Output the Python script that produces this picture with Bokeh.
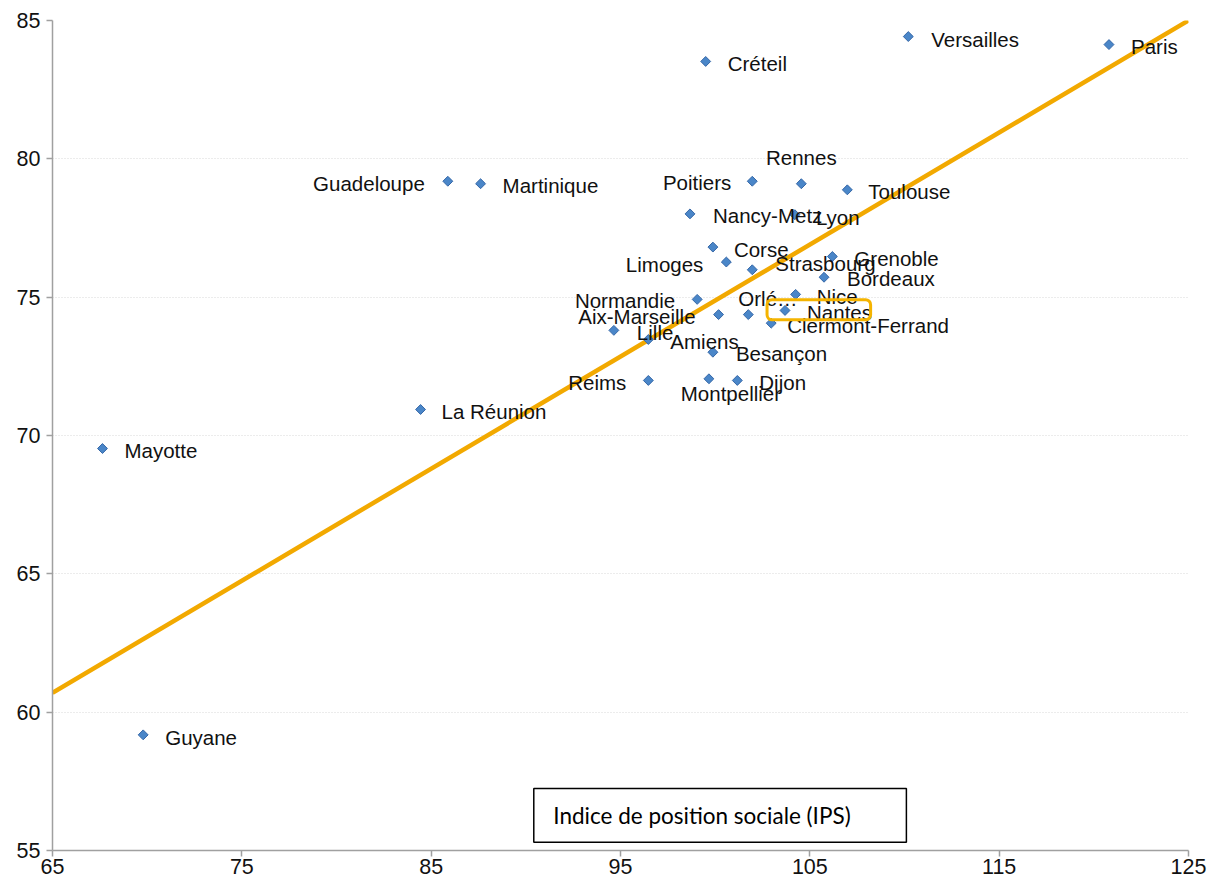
import math
from bokeh.plotting import figure
from bokeh.models import ColumnDataSource, FixedTicker, BoxAnnotation, Label, Range1d
from bokeh.core.properties import value
from bokeh.embed import file_html
from bokeh.resources import INLINE

# ---- data ----
academies = ["Paris", "Versailles", "Créteil", "Rennes", "Poitiers", "Toulouse",
             "Guadeloupe", "Martinique", "Nancy-Metz", "Lyon", "Corse", "Limoges",
             "Strasbourg", "Grenoble", "Bordeaux", "Nice", "Orlé…", "Aix-Marseille",
             "Nantes", "Clermont-Ferrand", "Normandie", "Lille", "Amiens", "Besançon",
             "Reims", "Montpellier", "Dijon", "La Réunion", "Mayotte", "Guyane"]
ips = [120.8, 110.2, 99.5, 104.55, 101.96, 106.98,
       85.88, 87.61, 98.67, 104.21, 99.88, 100.59,
       101.96, 106.19, 105.75, 104.25, 101.75, 100.18,
       103.69, 102.96, 99.05, 94.65, 96.47, 99.88,
       96.47, 99.67, 101.17, 84.44, 67.64, 69.79]
taux = [84.13, 84.42, 83.52, 79.10, 79.19, 78.88,
        79.19, 79.10, 78.01, 77.98, 76.81, 76.27,
        75.99, 76.47, 75.72, 75.10, 74.37, 74.37,
        74.52, 74.06, 74.92, 73.80, 73.47, 73.01,
        71.99, 72.05, 71.99, 70.94, 69.53, 59.18]
trend_x = [65, 125]
trend_y = [60.7, 85.0]
x_ticks = [65, 75, 85, 95, 105, 115, 125]
y_ticks = [55, 60, 65, 70, 75, 80, 85]
axis_title = "Indice de position sociale (IPS)"
highlight = "Nantes"

# ---- label placement (style) : (dx, dy in screen px, align) ----
placement = {
    "Paris": (22, 2, "left"), "Versailles": (23, 3, "left"), "Créteil": (22, 2, "left"),
    "Rennes": (0, -26, "center"), "Poitiers": (-21, 1, "right"), "Toulouse": (21, 2, "left"),
    "Guadeloupe": (-23, 2, "right"), "Martinique": (22, 2, "left"), "Nancy-Metz": (23, 2, "left"),
    "Lyon": (21, 3, "left"), "Corse": (21, 2, "left"), "Limoges": (-23, 2, "right"),
    "Strasbourg": (23, -6, "left"), "Grenoble": (22, 2, "left"), "Bordeaux": (23, 1, "left"),
    "Nice": (21, 2, "left"), "Orlé…": (-10, -16, "left"), "Aix-Marseille": (-23, 2, "right"),
    "Nantes": (22, 2, "left"), "Clermont-Ferrand": (16, 2, "left"), "Normandie": (-22, 1, "right"),
    "Lille": (23, 2, "left"), "Amiens": (22, 2, "left"), "Besançon": (23, 1, "left"),
    "Reims": (-22, 2, "right"), "Montpellier": (22, 15, "center"), "Dijon": (22, 2, "left"),
    "La Réunion": (21, 2, "left"), "Mayotte": (22, 2, "left"), "Guyane": (22, 3, "left"),
}

src = ColumnDataSource(dict(
    x=ips, y=taux, name=academies,
    dx=[placement[a][0] for a in academies],
    dy=[placement[a][1] for a in academies],
    align=[placement[a][2] for a in academies],
))

p = figure(width=1210, height=887, output_backend="svg", toolbar_location=None,
           x_range=Range1d(x_ticks[0], x_ticks[-1]), y_range=Range1d(y_ticks[0], y_ticks[-1]),
           min_border_left=52, min_border_right=22, min_border_top=20, min_border_bottom=37)
p.outline_line_color = None
p.background_fill_color = "white"
p.border_fill_color = "white"

# grid
p.xgrid.grid_line_color = None
p.ygrid.ticker = FixedTicker(ticks=y_ticks)
p.ygrid.grid_line_color = "#D9D9D9"
p.ygrid.grid_line_dash = "1 2"
p.ygrid.grid_line_width = 1

for ax, ticks in ((p.xaxis[0], x_ticks), (p.yaxis[0], y_ticks)):
    ax.ticker = FixedTicker(ticks=ticks)
    ax.axis_line_color = "#A0A0A0"
    ax.axis_line_width = 1.5
    ax.major_tick_line_color = "#A0A0A0"
    ax.major_tick_line_width = 1.5
    ax.major_tick_out = 6
    ax.major_tick_in = 0
    ax.minor_tick_line_color = None
    ax.major_label_text_font = "Arial"
    ax.major_label_text_font_size = "21.5px"
    ax.major_label_text_color = "#111111"
p.xaxis.major_label_standoff = 2
p.yaxis.major_label_standoff = 6

# trend line
p.line(trend_x, trend_y, line_color="#F2A900", line_width=4.5)

# points (diamonds as 45°-rotated squares)
p.scatter("x", "y", source=src, marker="square", size=7, angle=math.pi / 4,
          fill_color="#4A86C8", line_color="#3668A8", line_width=1)

# labels
p.text("x", "y", text="name", source=src, x_offset="dx", y_offset="dy",
       text_align="align", text_baseline="middle",
       text_font=value("Arial"), text_font_size="20.5px", text_color="#111111")

# highlight box around the Nantes label
i = academies.index(highlight)
hx, hy = ips[i], taux[i]
p.add_layout(BoxAnnotation(left=hx - 0.95, right=hx + 4.52, top=hy + 0.39, bottom=hy - 0.34,
                           fill_color=None, fill_alpha=0, line_color="#F5B400", line_alpha=1,
                           line_width=3, border_radius=5))

# axis title box
p.add_layout(BoxAnnotation(left=90.42, right=110.1, top=57.24, bottom=55.3,
                           fill_color="white", fill_alpha=1, line_color="black", line_alpha=1,
                           line_width=1.5))
p.add_layout(Label(x=91.45, y=56.27, text=axis_title, text_baseline="middle",
                   text_font="Lato", text_font_size="22.5px", text_color="black"))

open("out.html", "w").write(file_html(p, INLINE))
